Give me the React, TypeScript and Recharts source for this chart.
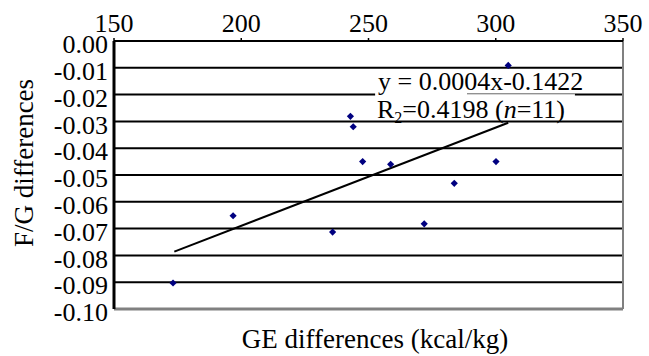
import React from 'react';
import { ScatterChart, Scatter, XAxis, YAxis, CartesianGrid, ReferenceLine, ReferenceArea } from 'recharts';

const geDiff = [173.2, 196.8, 235.9, 242.9, 244.0, 247.7, 258.7, 271.9, 283.7, 300.1, 304.9];
const fgDiff = [-0.0903, -0.0652, -0.0713, -0.0281, -0.032, -0.045, -0.046, -0.0682, -0.0531, -0.045, -0.0091];
const trendX = [173.7, 304.9];
const trendY = [-0.0786, -0.0305];
const xTicks = [150, 200, 250, 300, 350];
const yTicks = [0, -0.01, -0.02, -0.03, -0.04, -0.05, -0.06, -0.07, -0.08, -0.09, -0.1];

const points = geDiff.map((x, i) => ({ x, y: fgDiff[i] }));
const trend = trendX.map((x, i) => ({ x, y: trendY[i] }));

const FONT = 'Liberation Serif';

const Diamond = (props: any) => {
  const { cx, cy } = props;
  const r = 3.6;
  return (
    <polygon
      points={`${cx},${cy - r} ${cx + r},${cy} ${cx},${cy + r} ${cx - r},${cy}`}
      fill="#000080"
    />
  );
};

const Empty = () => <g />;

const fmt = (v: number) => (Math.abs(v) < 1e-9 ? '0.00' : v.toFixed(2));

export default function App() {
  return (
    <div
      style={{
        position: 'absolute',
        left: 0,
        top: 0,
        width: 649,
        height: 356,
        background: '#fff',
        fontFamily: FONT,
      }}
    >
      <ScatterChart width={649} height={356} margin={{ top: 0, right: 26, bottom: 47, left: 0 }} style={{ fontFamily: FONT }}>
        <CartesianGrid vertical={false} stroke="#000" strokeWidth={2} />
        <XAxis
          type="number"
          dataKey="x"
          orientation="top"
          domain={[150, 350]}
          ticks={xTicks}
          interval={0}
          height={41}
          axisLine={{ stroke: '#000', strokeWidth: 2 }}
          tickLine={{ stroke: '#000', strokeWidth: 1.5 }}
          tickSize={3}
          tickMargin={6}
          tick={{ fill: '#000', fontSize: 26, fontFamily: FONT }}
          allowDataOverflow
        />
        <YAxis
          type="number"
          dataKey="y"
          domain={[-0.1, 0]}
          ticks={yTicks}
          interval={0}
          width={114}
          axisLine={{ stroke: '#000', strokeWidth: 3 }}
          tickLine={false}
          tickSize={0}
          tickMargin={6}
          tickFormatter={fmt}
          tick={{ fill: '#000', fontSize: 26, dy: 3, fontFamily: FONT }}
          allowDataOverflow
        />
        <ReferenceLine y={-0.1} stroke="#808080" strokeWidth={3} />
        <ReferenceLine x={350} stroke="#808080" strokeWidth={2} />
        <ReferenceArea x1={252.6} x2={331.1} y1={-0.0215} y2={-0.0182} fill="#fff" fillOpacity={1} stroke="none" />
        <ReferenceLine
          segment={[{ x: 288.7, y: -0.0197 }, { x: 331.1, y: -0.0197 }]}
          stroke="#666"
          strokeWidth={1}
        />
        <Scatter
          data={trend}
          dataKey="y"
          line={{ stroke: '#000', strokeWidth: 2 }}
          shape={Empty}
          isAnimationActive={false}
        />
        <Scatter data={points} dataKey="y" shape={Diamond} isAnimationActive={false} />
      </ScatterChart>
      <svg
        width={649}
        height={356}
        style={{ position: 'absolute', left: 0, top: 0, pointerEvents: 'none', fontFamily: FONT }}
      >
        <text x={378} y={90} fontSize={26} fill="#000" style={{ fontFamily: FONT }}>y = 0.0004x-0.1422</text>
        <text x={377} y={118} fontSize={26} fill="#000" style={{ fontFamily: FONT }}>
          R<tspan fontSize={16} dy={5}>2</tspan>
          <tspan dy={-5}>=0.4198 (</tspan>
          <tspan fontStyle="italic">n</tspan>
          <tspan>=11)</tspan>
        </text>
        <text x={375} y={348} fontSize={27} fill="#000" textAnchor="middle" style={{ fontFamily: FONT }}>
          GE differences (kcal/kg)
        </text>
        <text
          transform="translate(33,163) rotate(-90)"
          fontSize={27}
          fill="#000"
          textAnchor="middle"
          style={{ fontFamily: FONT }}
        >
          F/G differences
        </text>
      </svg>
    </div>
  );
}
